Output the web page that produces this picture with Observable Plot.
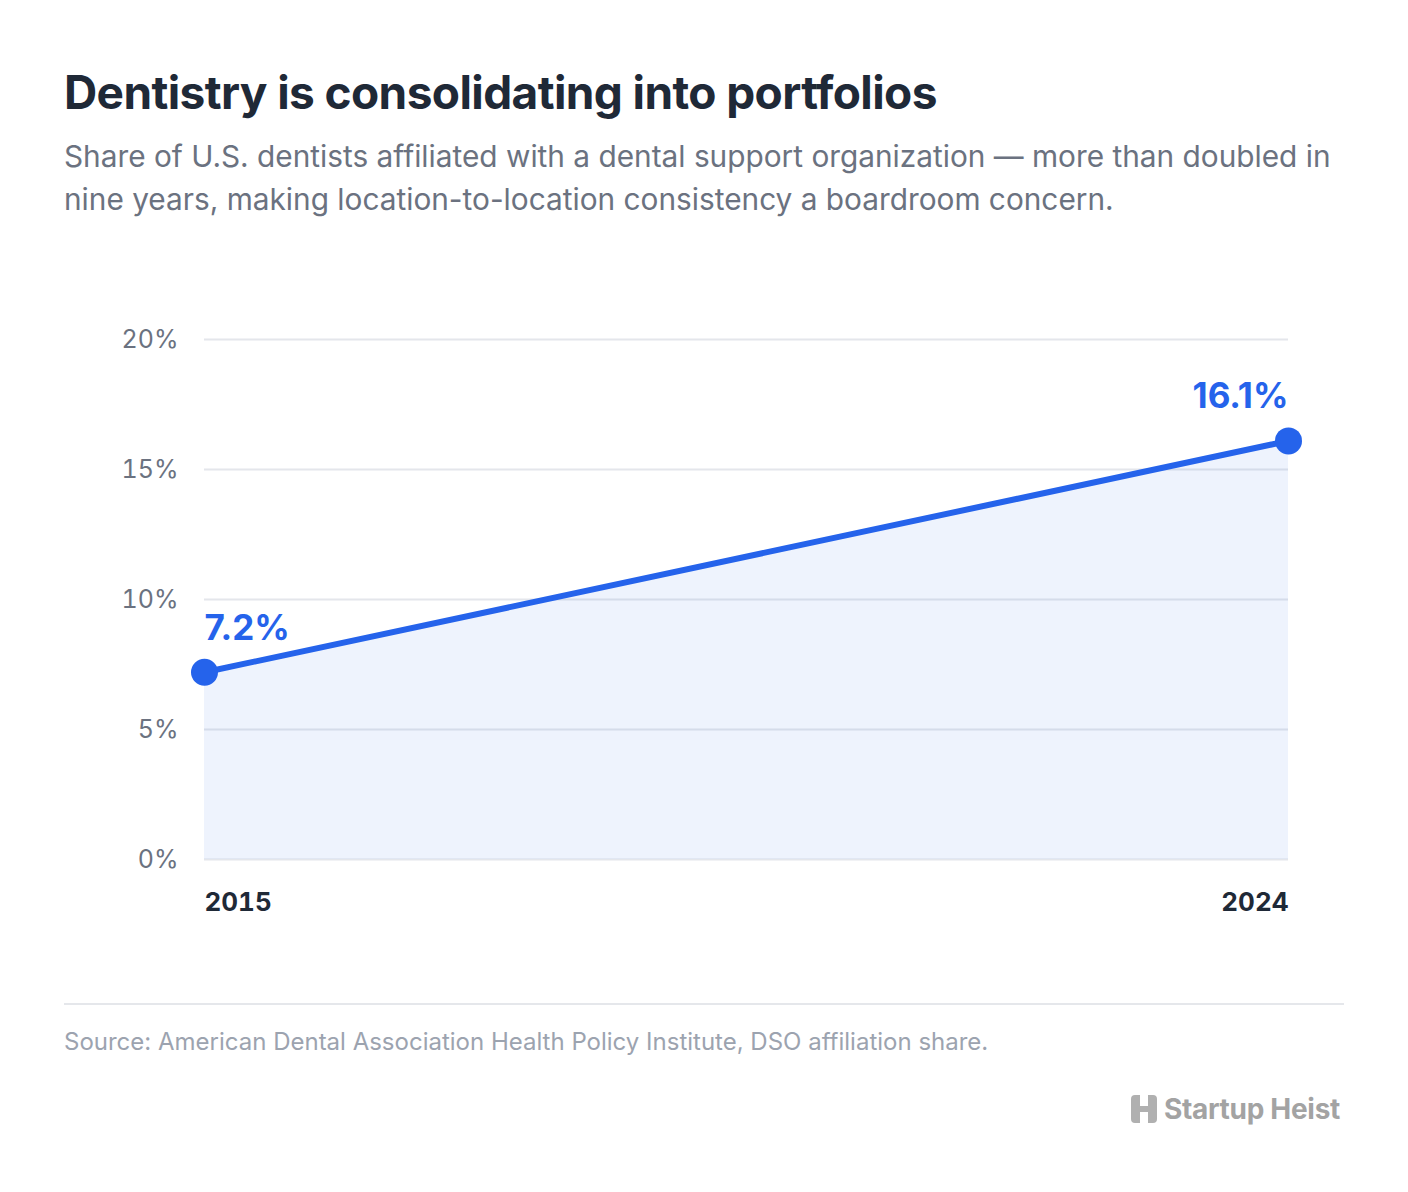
<!DOCTYPE html>
<html>
<head>
<meta charset="utf-8">
<script src="https://cdn.jsdelivr.net/npm/d3@7"></script>
<script src="https://cdn.jsdelivr.net/npm/@observablehq/plot@0.6"></script>
<style>
  html, body { margin: 0; padding: 0; background: #ffffff; }
  body { width: 1408px; height: 1192px; font-family: Inter, "Noto Sans", sans-serif; }
  .wrap { position: relative; padding: 64px 64px 0 64px; width: 1280px; }
  h1 { margin: 0; font-size: 46px; font-weight: 700; color: #1f2937; letter-spacing: -0.6px; line-height: 56px; }
  .sub { margin: 15px 0 0 0; font-size: 29.8px; line-height: 43px; color: #6b7280; font-weight: 400; }
  #chart { margin-top: 59px; }
  .rule { border-top: 2px solid #e5e7eb; margin-top: 83px; }
  .source { margin-top: 22px; font-size: 24px; color: #9ca3af; }
  .brand { position: absolute; right: 68px; top: 1092px; display: flex; align-items: center; gap: 7px;
           font-size: 28px; font-weight: 700; color: #a3a3a3; letter-spacing: -0.3px; }
</style>
</head>
<body>
<div class="wrap">
  <h1>Dentistry is consolidating into portfolios</h1>
  <p class="sub">Share of U.S. dentists affiliated with a dental support organization — more than doubled in nine years, making location-to-location consistency a boardroom concern.</p>
  <div id="chart"></div>
  <div class="rule"></div>
  <div class="source">Source: American Dental Association Health Policy Institute, DSO affiliation share.</div>
</div>
<div class="brand">
  <svg width="26" height="28" viewBox="0 0 26 28"><path d="M4 0h5v11h8V0h5a4 4 0 0 1 4 4v20a4 4 0 0 1-4 4h-5V17H9v11H4a4 4 0 0 1-4-4V4a4 4 0 0 1 4-4z" fill="#b0b0b0"/></svg>
  <span>Startup Heist</span>
</div>
<script>
// DSO affiliation share of U.S. dentists
const years = [2015, 2024];
const shares = [7.2, 16.1];
const yTicks = [0, 5, 10, 15, 20];

const data = years.map((year, i) => ({ year, share: shares[i] }));
const blue = "#2563eb";
const pct = d => d.share.toFixed(1) + "%";
const labelStyle = { x: "year", y: "share", text: pct, dy: -44, fontSize: 35, fontWeight: 700, fill: blue };

const chart = Plot.plot({
  width: 1280,
  height: 640,
  marginLeft: 140,
  marginRight: 56,
  marginTop: 59,
  marginBottom: 61,
  style: { fontFamily: "Inter, sans-serif", background: "transparent" },
  x: { domain: [2015, 2024], label: null },
  y: { domain: [0, 20], label: null },
  marks: [
    Plot.gridY(yTicks, { stroke: "#e4e6eb", strokeOpacity: 1, strokeWidth: 2 }),
    Plot.areaY(data, { x: "year", y: "share", fill: blue, fillOpacity: 0.08 }),
    Plot.axisY({ ticks: yTicks, tickSize: 0, tickPadding: 26, tickFormat: d => d + "%", fontSize: 25, fill: "#6b7280" }),
    Plot.axisX({ ticks: [2015], tickSize: 0, tickPadding: 33, tickFormat: d => String(d), textAnchor: "start", fontSize: 26, fontWeight: 700, fill: "#1f2937" }),
    Plot.axisX({ ticks: [2024], tickSize: 0, tickPadding: 33, tickFormat: d => String(d), textAnchor: "end", fontSize: 26, fontWeight: 700, fill: "#1f2937" }),
    Plot.lineY(data, { x: "year", y: "share", stroke: blue, strokeWidth: 6 }),
    Plot.dot(data, { x: "year", y: "share", r: 13.5, fill: blue }),
    // first value sits to the right of its point, last value to the left
    Plot.text(data.slice(0, 1), { ...labelStyle, textAnchor: "start" }),
    Plot.text(data.slice(-1), { ...labelStyle, textAnchor: "end" })
  ]
});
document.getElementById("chart").append(chart);
</script>
</body>
</html>
